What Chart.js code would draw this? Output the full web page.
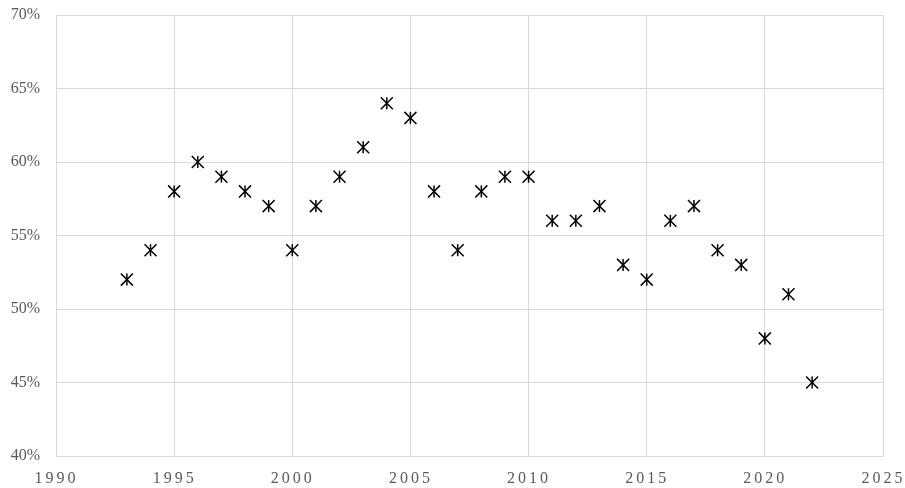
<!DOCTYPE html>
<html>
<head>
<meta charset="utf-8">
<script src="https://cdn.jsdelivr.net/npm/chart.js@4/dist/chart.umd.min.js"></script>
<style>
  html, body { margin: 0; padding: 0; background: #fff; }
  #wrap { width: 905px; height: 488px; }
</style>
</head>
<body>
<div id="wrap"><canvas id="chart" width="905" height="488"></canvas></div>
<script>
// values
const years = [1993, 1994, 1995, 1996, 1997, 1998, 1999, 2000, 2001, 2002,
               2003, 2004, 2005, 2006, 2007, 2008, 2009, 2010, 2011, 2012,
               2013, 2014, 2015, 2016, 2017, 2018, 2019, 2020, 2021, 2022];
const shares = [52, 54, 58, 60, 59, 58, 57, 54, 57, 59,
                61, 64, 63, 58, 54, 58, 59, 59, 56, 56,
                57, 53, 52, 56, 57, 54, 53, 48, 51, 45];
const xTicks = [1990, 1995, 2000, 2005, 2010, 2015, 2020, 2025];

const points = years.map((y, i) => ({ x: y, y: shares[i] }));
const gridColor = '#d9d9d9';
const labelColor = '#595959';
const serif = '"Liberation Serif", "Times New Roman", serif';

// x labels are drawn by hand so they can get the wide letter spacing of the original
const spacedXLabels = {
    id: 'spacedXLabels',
    afterDraw(chart) {
        const ctx = chart.ctx;
        const xs = chart.scales.x;
        ctx.save();
        ctx.font = '16px ' + serif;
        ctx.fillStyle = labelColor;
        ctx.textAlign = 'center';
        ctx.textBaseline = 'middle';
        ctx.letterSpacing = '3px';
        xTicks.forEach(t => {
            ctx.fillText(String(t), xs.getPixelForValue(t) + 0.5, xs.top + 23);
        });
        ctx.restore();
    }
};

new Chart(document.getElementById('chart'), {
    type: 'scatter',
    data: {
        datasets: [
            {
                data: points,
                pointStyle: 'crossRot',
                radius: 8.5,
                borderColor: '#000',
                borderWidth: 1.5,
                hoverRadius: 8.5
            },
            {
                data: points,
                pointStyle: 'line',
                rotation: 90,
                radius: 6,
                borderColor: '#000',
                borderWidth: 1.5,
                hoverRadius: 6
            }
        ]
    },
    options: {
        responsive: false,
        animation: false,
        layout: { padding: { top: 15, right: 22, left: 0, bottom: 0 } },
        plugins: { legend: { display: false }, tooltip: { enabled: false } },
        scales: {
            x: {
                type: 'linear',
                min: 1990,
                max: 2025,
                afterBuildTicks: axis => { axis.ticks = xTicks.map(v => ({ value: v })); },
                afterFit: axis => { axis.height = 32; axis.paddingLeft = 0; axis.paddingRight = 0; },
                grid: { color: gridColor, drawTicks: false },
                border: { color: gridColor },
                ticks: { display: false }
            },
            y: {
                min: 40,
                max: 70,
                afterFit: axis => { axis.width = 56; axis.paddingTop = 0; axis.paddingBottom = 0; },
                grid: { color: gridColor, drawTicks: false },
                border: { color: gridColor },
                ticks: {
                    stepSize: 5,
                    padding: 16,
                    color: labelColor,
                    font: { family: serif, size: 16 },
                    callback: v => v + '%'
                }
            }
        }
    },
    plugins: [spacedXLabels]
});
</script>
</body>
</html>
